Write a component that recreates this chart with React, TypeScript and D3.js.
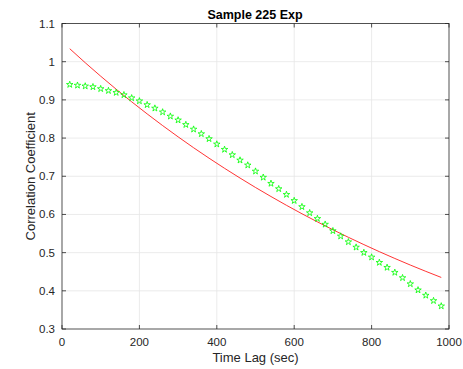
import React from "react";
import * as d3 from "d3";

const title = "Sample 225 Exp";
const xLabel = "Time Lag (sec)";
const yLabel = "Correlation Coefficient";

const xTicks = [0, 200, 400, 600, 800, 1000];
const yTicks = [0.3, 0.4, 0.5, 0.6, 0.7, 0.8, 0.9, 1.0, 1.1];
const yTickLabels = ["0.3", "0.4", "0.5", "0.6", "0.7", "0.8", "0.9", "1", "1.1"];

// measured correlation (stars)
const lags = [
  20, 40, 60, 80, 100, 120, 140, 160, 180, 200, 220, 240, 260, 280, 300, 320, 340,
  360, 380, 400, 420, 440, 460, 480, 500, 520, 540, 560, 580, 600, 620, 640, 660,
  680, 700, 720, 740, 760, 780, 800, 820, 840, 860, 880, 900, 920, 940, 960, 980,
];
const corr = [
  0.940, 0.938, 0.936, 0.934, 0.929, 0.924, 0.919, 0.913, 0.905, 0.897, 0.887,
  0.878, 0.868, 0.857, 0.847, 0.835, 0.823, 0.811, 0.798, 0.784, 0.770, 0.756,
  0.742, 0.729, 0.713, 0.697, 0.681, 0.667, 0.652, 0.636, 0.620, 0.604, 0.589,
  0.574, 0.557, 0.543, 0.528, 0.514, 0.500, 0.488, 0.474, 0.461, 0.448, 0.434,
  0.418, 0.402, 0.388, 0.374, 0.360,
];

// exponential fit (red line)
const fitLags = [
  20, 60, 100, 140, 180, 220, 260, 300, 340, 380, 420, 460, 500, 540, 580, 620,
  660, 700, 740, 780, 820, 860, 900, 940, 980,
];
const fitVals = [
  1.034, 0.9973, 0.962, 0.9279, 0.895, 0.8633, 0.8327, 0.8032, 0.7747, 0.7473,
  0.7208, 0.6953, 0.6706, 0.6469, 0.6239, 0.6018, 0.5805, 0.5599, 0.5401, 0.521,
  0.5025, 0.4847, 0.4675, 0.451, 0.435,
];

export default function App() {
  const W = 463;
  const H = 369;
  const left = 62;
  const right = 449;
  const top = 23.5;
  const bottom = 329;
  const x = d3.scaleLinear().domain([0, 1000]).range([left, right]);
  const y = d3.scaleLinear().domain([0.3, 1.1]).range([bottom, top]);
  const fitLine = d3
    .line<number>()
    .x((_, i) => x(fitLags[i]))
    .y((d) => y(d))
    .curve(d3.curveMonotoneX)(fitVals) as string;
  const star = d3.symbol().type(d3.symbolStar).size(13)() as string;
  const font = "'Liberation Sans', Arial, Helvetica, sans-serif";
  const txt = "#262626";
  const grid = "#e6e6e6";
  const tl = 4;

  return (
    <svg width={W} height={H} style={{ position: "absolute", left: 0, top: 0 }} fontFamily={font}>
      <rect x={0} y={0} width={W} height={H} fill="#fff" />
      {/* grid */}
      {xTicks.slice(1, -1).map((t) => (
        <line key={"gx" + t} x1={x(t)} x2={x(t)} y1={top} y2={bottom} stroke={grid} strokeWidth={0.8} />
      ))}
      {yTicks.slice(1, -1).map((t) => (
        <line key={"gy" + t} x1={left} x2={right} y1={y(t)} y2={y(t)} stroke={grid} strokeWidth={0.8} />
      ))}
      {/* data */}
      <path d={fitLine} fill="none" stroke="#ff0000" strokeWidth={0.8} />
      {corr.map((v, i) => (
        <path
          key={"s" + i}
          d={star}
          transform={`translate(${x(lags[i])},${y(v)})`}
          fill="none"
          stroke="#00ff00"
          strokeWidth={0.8}
        />
      ))}
      {/* box */}
      <rect x={left} y={top} width={right - left} height={bottom - top} fill="none" stroke={txt} strokeWidth={0.8} />
      {/* ticks */}
      {xTicks.map((t) => (
        <g key={"tx" + t}>
          <line x1={x(t)} x2={x(t)} y1={bottom} y2={bottom - tl} stroke={txt} strokeWidth={0.8} />
          <line x1={x(t)} x2={x(t)} y1={top} y2={top + tl} stroke={txt} strokeWidth={0.8} />
          <text x={x(t)} y={346} textAnchor="middle" fontSize={11.5} fill={txt}>
            {t}
          </text>
        </g>
      ))}
      {yTicks.map((t, i) => (
        <g key={"ty" + t}>
          <line x1={left} x2={left + tl} y1={y(t)} y2={y(t)} stroke={txt} strokeWidth={0.8} />
          <line x1={right} x2={right - tl} y1={y(t)} y2={y(t)} stroke={txt} strokeWidth={0.8} />
          <text x={55} y={y(t)} dy="0.35em" textAnchor="end" fontSize={11.5} fill={txt}>
            {yTickLabels[i]}
          </text>
        </g>
      ))}
      {/* labels */}
      <text x={255} y={18.5} textAnchor="middle" fontSize={12.5} fontWeight="bold" fill="#000">
        {title}
      </text>
      <text x={255.5} y={362} textAnchor="middle" fontSize={13} fill={txt}>
        {xLabel}
      </text>
      <text
        transform={`translate(35,${(top + bottom) / 2}) rotate(-90)`}
        textAnchor="middle"
        fontSize={13}
        fill={txt}
      >
        {yLabel}
      </text>
    </svg>
  );
}
